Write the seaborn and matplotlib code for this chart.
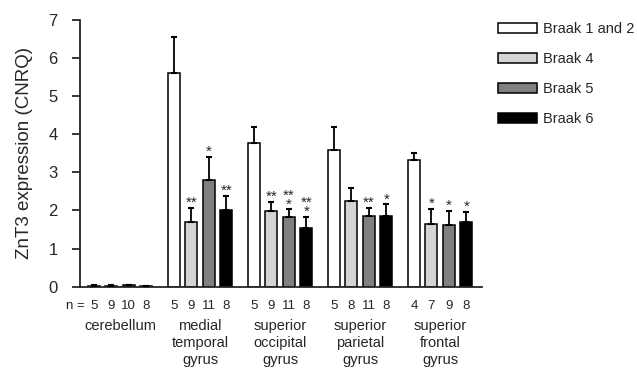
import numpy as np
import pandas as pd
import seaborn as sns
import matplotlib
matplotlib.use("Agg")
import matplotlib.pyplot as plt
import matplotlib.transforms as mtransforms

sns.set_style("ticks")
plt.rcParams["font.family"] = ["Liberation Sans", "DejaVu Sans"]

regions = ["cerebellum", "medial\ntemporal\ngyrus", "superior\noccipital\ngyrus",
           "superior\nparietal\ngyrus", "superior\nfrontal\ngyrus"]
stages = ["Braak 1 and 2", "Braak 4", "Braak 5", "Braak 6"]
colors = ["#ffffff", "#d4d4d4", "#808080", "#000000"]

# mean values per stage (rows) and region (columns)
means = [
    [0.03, 5.60, 3.76, 3.59, 3.33],
    [0.03, 1.71, 1.99, 2.26, 1.65],
    [0.04, 2.80, 1.82, 1.86, 1.63],
    [0.02, 2.01, 1.53, 1.86, 1.69],
]
# top of error bar
err_top = [
    [0.04, 6.55, 4.20, 4.20, 3.50],
    [0.04, 2.06, 2.23, 2.58, 2.04],
    [0.05, 3.41, 2.03, 2.07, 1.99],
    [0.03, 2.39, 1.84, 2.16, 1.97],
]
stars = [
    ["", "", "", "", ""],
    ["", "**", "**", "", "*"],
    ["", "*", "**\n*", "**", "*"],
    ["", "**", "**\n*", "*", "*"],
]
n_counts = [
    ["5", "5", "5", "5", "4"],
    ["9", "9", "9", "8", "7"],
    ["10", "11", "11", "11", "9"],
    ["8", "8", "8", "8", "8"],
]

rows = []
for si, st in enumerate(stages):
    for ri, rg in enumerate(regions):
        rows.append({"region": rg, "stage": st, "value": means[si][ri]})
df = pd.DataFrame(rows)

fig = plt.figure(figsize=(6.37, 3.68), dpi=100)
ax = fig.add_axes([0.1256, 0.221, 0.6314, 0.7247])

sns.barplot(data=df, x="region", y="value", hue="stage", order=regions,
            hue_order=stages, palette=colors, edgecolor="black", linewidth=1.1,
            width=0.875, gap=0.31, errorbar=None, ax=ax, legend=True)

trans_n = mtransforms.blended_transform_factory(ax.transData, ax.transAxes)
bar_containers = list(ax.containers)
for si, cont in enumerate(bar_containers):
    xs = [p.get_x() + p.get_width() / 2 for p in cont.patches]
    ys = np.array(means[si])
    up = np.array(err_top[si]) - ys
    ax.errorbar(xs, ys, yerr=[np.zeros_like(ys), up], fmt="none", ecolor="black",
                elinewidth=1.3, capsize=2.5, capthick=1.5, zorder=3)
    for ri, x in enumerate(xs):
        if stars[si][ri]:
            ax.annotate(stars[si][ri], (x, err_top[si][ri]), xytext=(0, -1.5),
                        textcoords="offset points", ha="center", va="bottom",
                        fontsize=11, linespacing=0.55, multialignment="center")
        ax.text(x, -0.05, n_counts[si][ri], transform=trans_n, ha="center",
                va="top", fontsize=9.5)
        if si == 0 and ri == 0:
            ax.annotate("n =", (x, -0.05), xycoords=trans_n, xytext=(-6.5, 0),
                        textcoords="offset points", ha="right", va="top",
                        fontsize=9.5)

ax.set_xlim(-0.5, 4.525)
ax.set_ylim(0, 7)
ax.set_yticks(range(8))
ax.set_xlabel("")
ax.set_ylabel("ZnT3 expression (CNRQ)", fontsize=13.5, labelpad=11)
ax.tick_params(axis="y", labelsize=12, length=6, width=1.3, pad=10)
ax.tick_params(axis="x", length=0, labelsize=10.5, pad=23)
for lab in ax.get_xticklabels():
    lab.set_linespacing(1.3)
sns.despine(ax=ax)
ax.spines["left"].set_linewidth(1.3)
ax.spines["bottom"].set_linewidth(1.3)

handles, labels = ax.get_legend_handles_labels()
ax.get_legend().remove()
fig.legend(handles, labels, loc="upper left", bbox_to_anchor=(0.782, 0.94),
           frameon=False, fontsize=10.5, handlelength=2.67, handleheight=0.62,
           labelspacing=1.1, handletextpad=0.42, borderpad=0, borderaxespad=0)

fig.savefig("out.png", dpi=100)
